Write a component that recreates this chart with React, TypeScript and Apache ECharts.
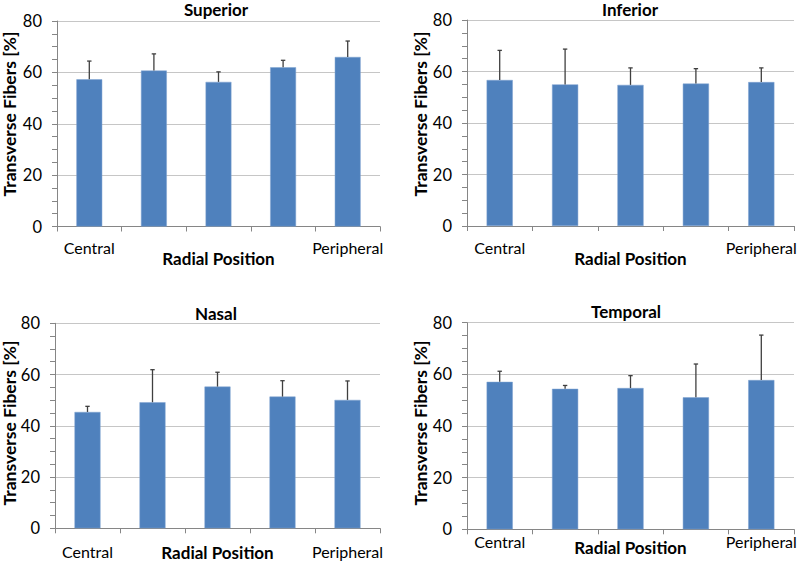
import React, { useEffect, useRef } from "react";
import * as echarts from "echarts";

const positions = ["Central", "", "", "", "Peripheral"];
const yTicks = [0, 20, 40, 60, 80];

const superiorMean = [57.3, 60.7, 56.3, 62.0, 66.0];
const superiorSD = [7.1, 6.5, 3.9, 2.7, 6.2];
const inferiorMean = [56.7, 55.0, 54.8, 55.3, 55.9];
const inferiorSD = [11.5, 13.7, 6.6, 5.8, 5.5];
const nasalMean = [45.4, 49.2, 55.3, 51.4, 50.1];
const nasalSD = [2.2, 12.7, 5.6, 6.2, 7.4];
const temporalMean = [57.1, 54.4, 54.7, 51.1, 57.8];
const temporalSD = [4.1, 1.3, 4.8, 12.9, 17.4];

const panelTitles = ["Superior", "Inferior", "Nasal", "Temporal"];
const yTitle = "Transverse Fibers [%]";
const xTitle = "Radial Position";

const FONT = "Lato, 'Open Sans', sans-serif";

const panels = [
  { title: panelTitles[0], mean: superiorMean, sd: superiorSD, grid: { left: 57, top: 21, width: 323, height: 205.5 }, labelMargin: 13, nameGap: 23, titleX: 216, titleY: 9, yTitleX: 9, yTitleY: 114 },
  { title: panelTitles[1], mean: inferiorMean, sd: inferiorSD, grid: { left: 467, top: 20, width: 327, height: 206 }, labelMargin: 13, nameGap: 23.5, titleX: 630, titleY: 9, yTitleX: 420, yTitleY: 114 },
  { title: panelTitles[2], mean: nasalMean, sd: nasalSD, grid: { left: 55, top: 323.3, width: 325, height: 205 }, labelMargin: 15, nameGap: 16, titleX: 216, titleY: 313, yTitleX: 9, yTitleY: 423 },
  { title: panelTitles[3], mean: temporalMean, sd: temporalSD, grid: { left: 467, top: 322.7, width: 327, height: 206.6 }, labelMargin: 4, nameGap: 10, titleX: 626, titleY: 311, yTitleX: 420, yTitleY: 423 },
];

export default function App() {
  const ref = useRef<HTMLDivElement>(null);
  useEffect(() => {
    if (!ref.current) return;
    const chart = echarts.init(ref.current, null, { renderer: "svg" });
    const grids: any[] = [];
    const xAxes: any[] = [];
    const yAxes: any[] = [];
    const series: any[] = [];
    const graphics: any[] = [];
    panels.forEach((p, i) => {
      grids.push({ ...p.grid, containLabel: false, outerBoundsMode: "none" });
      xAxes.push({
        type: "category",
        gridIndex: i,
        data: positions.map((_, k) => String(k)),
        axisLine: { show: true, lineStyle: { color: "#868686", width: 1 } },
        axisTick: { show: true, length: 5, lineStyle: { color: "#868686" } },
        axisLabel: {
          interval: 0,
          margin: p.labelMargin,
          formatter: (_v: string, idx: number) => positions[idx],
          color: "#000",
          fontFamily: FONT,
          fontSize: 16,
        },
        name: xTitle,
        nameLocation: "middle",
        nameGap: p.nameGap,
        nameMoveOverlap: false,
        nameTextStyle: { color: "#000", fontFamily: FONT, fontSize: 17, fontWeight: "bold", verticalAlign: "top" },
        splitLine: { show: false },
      });
      yAxes.push({
        type: "value",
        gridIndex: i,
        min: yTicks[0],
        max: yTicks[yTicks.length - 1],
        interval: 20,
        axisLine: { show: true, lineStyle: { color: "#868686", width: 1 } },
        axisTick: { show: true, length: 5, lineStyle: { color: "#868686" } },
        minorTick: { show: true, splitNumber: 4, length: 5, lineStyle: { color: "#868686" } },
        axisLabel: { margin: 15, color: "#000", fontFamily: FONT, fontSize: 16.5 },
        splitLine: { show: true, lineStyle: { color: "#c6c6c6", width: 1 } },
      });
      series.push({
        type: "bar",
        xAxisIndex: i,
        yAxisIndex: i,
        data: p.mean,
        barWidth: "40%",
        itemStyle: { color: "#4F81BD", borderColor: "#7fa3d0", borderWidth: 0.5 },
      });
      series.push({
        type: "custom",
        xAxisIndex: i,
        yAxisIndex: i,
        encode: { x: 0, y: [1, 2] },
        data: p.mean.map((m, k) => [k, m, m + p.sd[k]]),
        z: 5,
        renderItem: (_params: any, api: any) => {
          const x = api.value(0);
          const a = api.coord([x, api.value(1)]);
          const b = api.coord([x, api.value(2)]);
          const st = { stroke: "#3f3f3f", lineWidth: 1.3 };
          return {
            type: "group",
            children: [
              { type: "line", shape: { x1: a[0], y1: a[1], x2: b[0], y2: b[1] }, style: st },
              { type: "line", shape: { x1: b[0] - 2.2, y1: b[1], x2: b[0] + 2.2, y2: b[1] }, style: st },
            ],
          };
        },
      });
      graphics.push({
        type: "text",
        x: p.titleX,
        y: p.titleY,
        style: { text: p.title, align: "center", verticalAlign: "middle", font: `bold 17px ${FONT}`, fill: "#000" },
      });
      graphics.push({
        type: "text",
        x: p.yTitleX,
        y: p.yTitleY,
        rotation: Math.PI / 2,
        style: { text: yTitle, align: "center", verticalAlign: "middle", font: `bold 17.5px ${FONT}`, fill: "#000" },
      });
    });
    chart.setOption({
      animation: false,
      backgroundColor: "#fff",
      grid: grids,
      xAxis: xAxes,
      yAxis: yAxes,
      series,
      graphic: graphics,
    });
    return () => chart.dispose();
  }, []);
  return <div ref={ref} style={{ position: "fixed", left: 0, top: 0, width: 797, height: 566 }} />;
}
